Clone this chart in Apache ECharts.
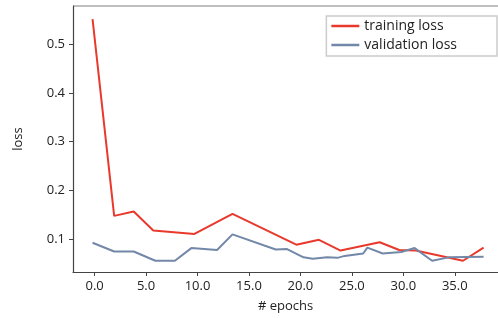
<!DOCTYPE html>
<html>
<head>
<meta charset="utf-8">
<script src="https://cdn.jsdelivr.net/npm/echarts@6/dist/echarts.min.js"></script>
<style>
	html, body { margin: 0; padding: 0; background: #fff; }
	#chart { width: 498px; height: 318px; }
</style>
</head>
<body>
<div id="chart"></div>
<script>
	var trainEpochs = [-0.2, 1.9, 3.8, 5.7, 9.7, 13.4, 19.6, 21.8, 23.9, 27.7, 29.6, 31.2, 35.8, 37.8];
	var trainLoss = [0.551, 0.148, 0.157, 0.118, 0.111, 0.152, 0.089, 0.099, 0.077, 0.094, 0.078, 0.077, 0.056, 0.083];
	var valEpochs = [-0.2, 1.9, 3.8, 5.9, 7.8, 9.4, 11.9, 13.4, 17.6, 18.7, 20.3, 21.2, 22.6, 23.6, 24.3, 26.1, 26.5, 28.0, 29.8, 31.1, 32.8, 34.4, 37.8];
	var valLoss = [0.093, 0.075, 0.075, 0.056, 0.056, 0.082, 0.078, 0.110, 0.079, 0.080, 0.063, 0.060, 0.063, 0.062, 0.066, 0.071, 0.083, 0.071, 0.074, 0.082, 0.056, 0.063, 0.064];
	var xTicks = [0, 5, 10, 15, 20, 25, 30, 35];
	var yTicks = [0.1, 0.2, 0.3, 0.4, 0.5];

	function pairs(xs, ys) {
		var out = [];
		for (var i = 0; i < xs.length; i++) {
			out.push([xs[i], ys[i]]);
		}
		return out;
	}

	var chart = echarts.init(document.getElementById('chart'));
	var font = 'Open Sans';
	var option = {
		animation: false,
		textStyle: { fontFamily: font },
		grid: { left: 73, right: 0, top: 6, bottom: 46, containLabel: false },
		legend: {
			orient: 'vertical',
			right: 1,
			top: 16,
			padding: [3, 40, 4, 5],
			borderColor: '#cccccc',
			borderWidth: 1.5,
			backgroundColor: '#fff',
			icon: 'rect',
			itemWidth: 28,
			itemHeight: 2.5,
			itemGap: 5,
			textStyle: { fontFamily: font, fontSize: 14, color: '#222' },
			data: ['training loss', 'validation loss']
		},
		xAxis: {
			type: 'value',
			min: -2.1,
			max: 39.2,
			name: '# epochs',
			nameLocation: 'middle',
			nameGap: 28,
			nameTextStyle: { fontFamily: font, fontSize: 13, color: '#222' },
			splitLine: { show: false },
			axisLine: { onZero: false, lineStyle: { color: '#444', width: 1.2 } },
			axisTick: { customValues: xTicks, length: 4, lineStyle: { color: '#444' } },
			axisLabel: {
				customValues: xTicks,
				margin: 8,
				fontSize: 13,
				color: '#222',
				formatter: function (v) { return v.toFixed(1); }
			}
		},
		yAxis: {
			type: 'value',
			min: 0.033,
			max: 0.578,
			name: 'loss',
			nameLocation: 'middle',
			nameGap: 48,
			nameRotate: 90,
			nameTextStyle: { fontFamily: font, fontSize: 13, color: '#222' },
			splitLine: { show: false },
			axisLine: { show: true, onZero: false, lineStyle: { color: '#444', width: 1.2 } },
			axisTick: { show: true, customValues: yTicks, length: 4, lineStyle: { color: '#444' } },
			axisLabel: {
				customValues: yTicks,
				margin: 8,
				fontSize: 13,
				color: '#222',
				formatter: function (v) { return v.toFixed(1); }
			}
		},
		graphic: [{
			// light top spine
			type: 'line',
			shape: { x1: 73, y1: 6, x2: 498, y2: 6 },
			style: { stroke: '#aaaaaa', lineWidth: 1.5 }
		}],
		series: [{
				name: 'training loss',
				type: 'line',
				showSymbol: false,
				symbol: 'none',
				color: '#e8392c',
				lineStyle: { color: '#e8392c', width: 2 },
				data: pairs(trainEpochs, trainLoss)
			},
			{
				name: 'validation loss',
				type: 'line',
				showSymbol: false,
				symbol: 'none',
				color: '#7388a9',
				lineStyle: { color: '#7388a9', width: 2 },
				data: pairs(valEpochs, valLoss)
			}
		]
	};
	chart.setOption(option);
</script>
</body>
</html>
